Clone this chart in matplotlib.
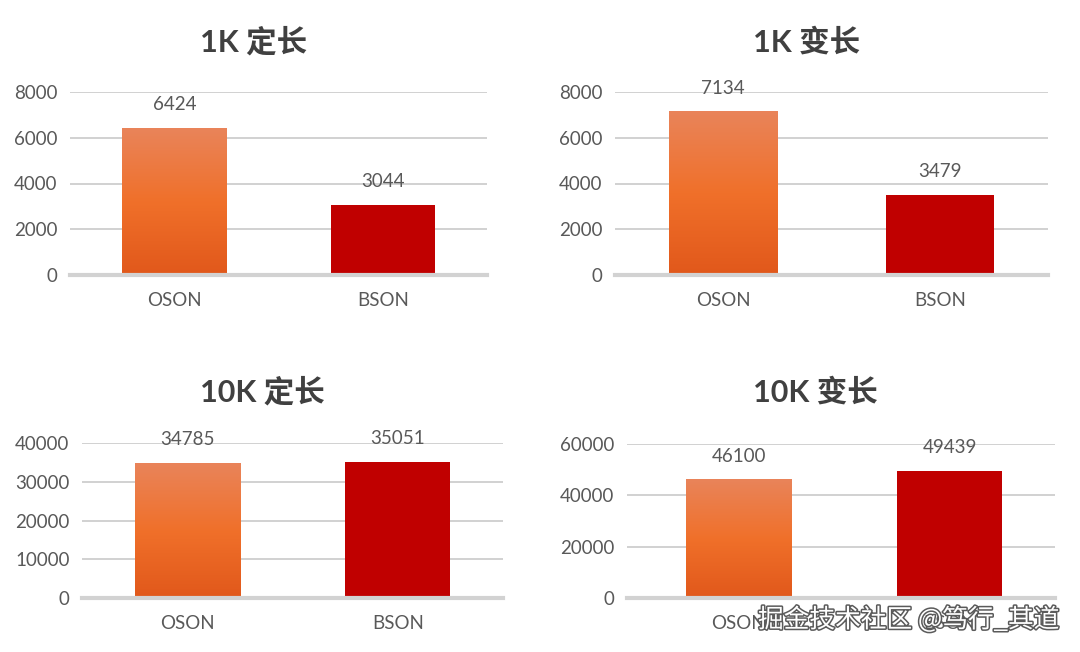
# ==========================================================
# OSON vs BSON - 4 panel bar chart
# ==========================================================

import numpy as np
import matplotlib
matplotlib.use("Agg")
import matplotlib.pyplot as plt
from matplotlib.colors import LinearSegmentedColormap
import matplotlib.patheffects as pe

plt.rcParams["font.family"] = ["Lato", "Noto Sans CJK SC", "DejaVu Sans"]

# ==========================================================
# DATA
# ==========================================================

categories = ["OSON", "BSON"]

titles = ["1K 定长", "1K 变长", "10K 定长", "10K 变长"]

values_1k_fixed = [6424, 3044]
values_1k_var = [7134, 3479]
values_10k_fixed = [34785, 35051]
values_10k_var = [46100, 49439]

yticks_1k = [0, 2000, 4000, 6000, 8000]
yticks_10k_fixed = [0, 10000, 20000, 30000, 40000]
yticks_10k_var = [0, 20000, 40000, 60000]

watermark = "掘金技术社区 @笃行_其道"

# ==========================================================
# LAYOUT (pixels: left, right, top, bottom | x limits | title x, y)
# ==========================================================

W, H = 1080, 652

panels = [
    (values_1k_fixed, yticks_1k, (70, 487, 92, 275), (-0.5, 1.5), (254, 42)),
    (values_1k_var, yticks_1k, (615, 1048, 92, 275), (-0.5, 1.5), (807, 42)),
    (values_10k_fixed, yticks_10k_fixed, (82, 503, 443, 598), (-0.5, 1.5), (262, 392)),
    (values_10k_var, yticks_10k_var, (627, 1055, 444, 598), (-0.53, 1.5), (815, 392)),
]

TEXT_GREY = "#595959"
TITLE_GREY = "#404040"
GRID_GREY = "#c9c9c9"
BSON_RED = "#c00000"

orange_cmap = LinearSegmentedColormap.from_list(
    "oson", ["#e1581b", "#f0702a", "#e9845a"]
)

# ==========================================================
# DRAW ONE PANEL
# ==========================================================

def draw_panel(fig, values, yticks, box, xlim, title, title_pos):

    left, right, top, bottom = box

    ax = fig.add_axes([
        left / W,
        1 - bottom / H,
        (right - left) / W,
        (bottom - top) / H
    ])

    x = np.arange(len(categories))

    bars = ax.bar(x, values, width=0.5, color=["none", BSON_RED], zorder=3)

    # gradient fill for the OSON bar
    grad = np.linspace(0, 1, 256).reshape(-1, 1)
    b = bars[0]
    ax.imshow(
        grad,
        cmap=orange_cmap,
        aspect="auto",
        origin="lower",
        extent=[b.get_x(), b.get_x() + b.get_width(), 0, b.get_height()],
        zorder=3
    )

    ax.set_xlim(*xlim)
    ax.set_ylim(0, yticks[-1])

    ax.set_yticks(yticks)
    ax.set_yticklabels([str(t) for t in yticks])
    ax.set_xticks(x)
    ax.set_xticklabels(categories)

    ax.tick_params(axis="both", length=0, labelsize=13.5, colors=TEXT_GREY)
    ax.tick_params(axis="y", pad=9)
    ax.tick_params(axis="x", pad=12)

    ax.grid(axis="y", color=GRID_GREY, linewidth=1.2, zorder=0)

    for s in ["left", "right", "top"]:
        ax.spines[s].set_visible(False)

    ax.spines["bottom"].set_color("#d2d2d2")
    ax.spines["bottom"].set_linewidth(3)
    ax.spines["bottom"].set_zorder(4)

    for xi, v in zip(x, values):
        ax.annotate(
            str(v),
            (xi, v),
            xytext=(0, 17),
            textcoords="offset points",
            ha="center",
            va="center",
            fontsize=13.5,
            color=TEXT_GREY,
            zorder=5
        )

    fig.text(
        title_pos[0] / W,
        1 - title_pos[1] / H,
        title,
        ha="center",
        va="center",
        fontsize=22,
        fontweight="bold",
        color=TITLE_GREY
    )

    return ax

# ==========================================================
# MAIN
# ==========================================================

def main():

    fig = plt.figure(figsize=(W / 100, H / 100), dpi=100)

    fig.patch.set_facecolor("white")

    for (values, yticks, box, xlim, tpos), title in zip(panels, titles):

        draw_panel(fig, values, yticks, box, xlim, title, tpos)

    fig.text(
        1060 / W,
        1 - 620 / H,
        watermark,
        ha="right",
        va="center",
        fontsize=18.5,
        color="white",
        family=["Noto Sans CJK SC", "DejaVu Sans"],
        path_effects=[pe.withStroke(linewidth=2.2, foreground="#5a5a5a")]
    )

    fig.savefig("out.png", dpi=100)

    plt.close(fig)


if __name__ == "__main__":

    main()
